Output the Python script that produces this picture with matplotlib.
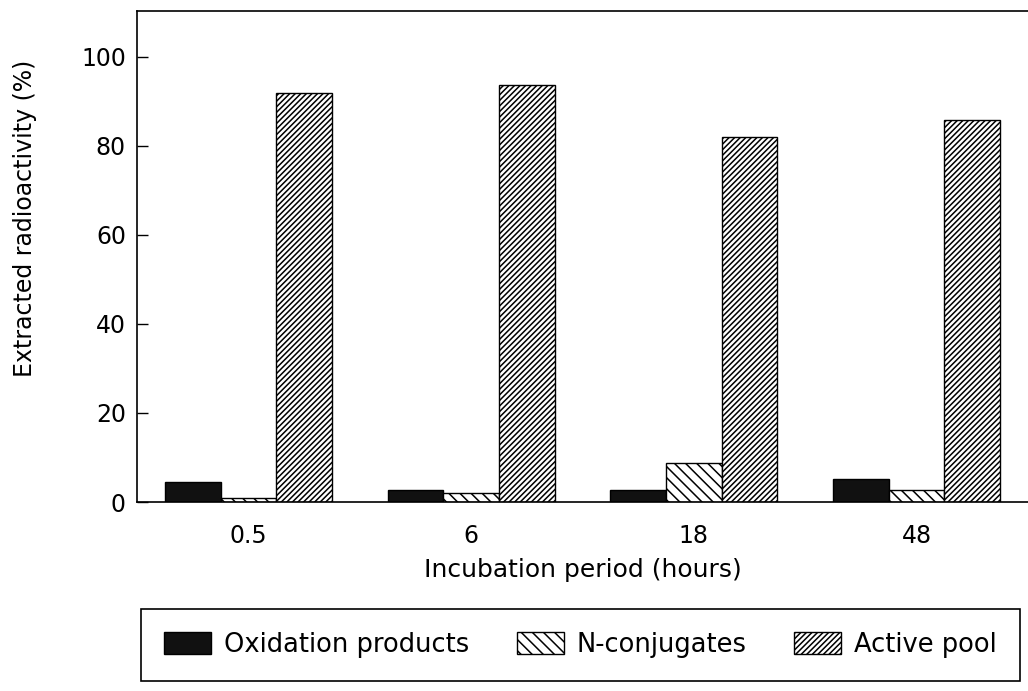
import matplotlib
matplotlib.use('Agg')
import matplotlib.pyplot as plt
import numpy as np

# datos
periods = ['0.5', '6', '18', '48']
oxidation = [4.5, 2.7, 2.7, 5.2]
n_conjugates = [0.9, 2.0, 8.8, 2.7]
active_pool = [91.9, 93.7, 82.0, 85.8]
series_names = ['Oxidation products', 'N-conjugates', 'Active pool']

plt.rcParams['font.family'] = ['DejaVu Sans']
plt.rcParams['hatch.linewidth'] = 1.1

fig = plt.figure(figsize=(10.28, 6.91), dpi=100)
ax = fig.add_axes([137 / 1028, 1 - 502 / 691, 1 - 137 / 1028, (502 - 11) / 691])

x = np.arange(len(periods))
w = 0.25
b1 = ax.bar(x - w, oxidation, w, color='#111111', edgecolor='black', linewidth=1.0,
            label=series_names[0])
b2 = ax.bar(x, n_conjugates, w, color='white', edgecolor='black', hatch='\\\\\\',
            linewidth=1.0, label=series_names[1])
b3 = ax.bar(x + w, active_pool, w, color='white', edgecolor='black', hatch='//////',
            linewidth=1.0, label=series_names[2])

ax.set_xlim(-0.5, 3.5)
ax.set_ylim(0, 110.3)
ax.set_yticks([0, 20, 40, 60, 80, 100])
ax.set_xticks(x)
ax.set_xticklabels(periods)
ax.tick_params(axis='both', labelsize=17)
ax.tick_params(axis='y', direction='in', length=8, width=1.0, pad=8)
ax.tick_params(axis='x', length=0, pad=16)
ax.spines['right'].set_visible(False)
for s in ['left', 'top', 'bottom']:
    ax.spines[s].set_linewidth(1.2)

ax.set_ylabel('Extracted radioactivity (%)', fontsize=17)
ax.yaxis.set_label_coords(-0.112, 0.578)
ax.set_xlabel('Incubation period (hours)', fontsize=18, labelpad=7)

leg = fig.legend(handles=[b1, b2, b3], loc='center', ncol=3, mode='expand',
                 bbox_to_anchor=(141 / 1028, 1 - 682 / 691, (1020 - 141) / 1028, 74 / 691),
                 fancybox=False, edgecolor='black', framealpha=1, borderaxespad=0,
                 fontsize=18.5, handlelength=1.83, handleheight=0.95,
                 handletextpad=0.5, borderpad=0.9)
leg.get_frame().set_linewidth(1.2)

plt.savefig('out.png', dpi=100)
plt.close()
